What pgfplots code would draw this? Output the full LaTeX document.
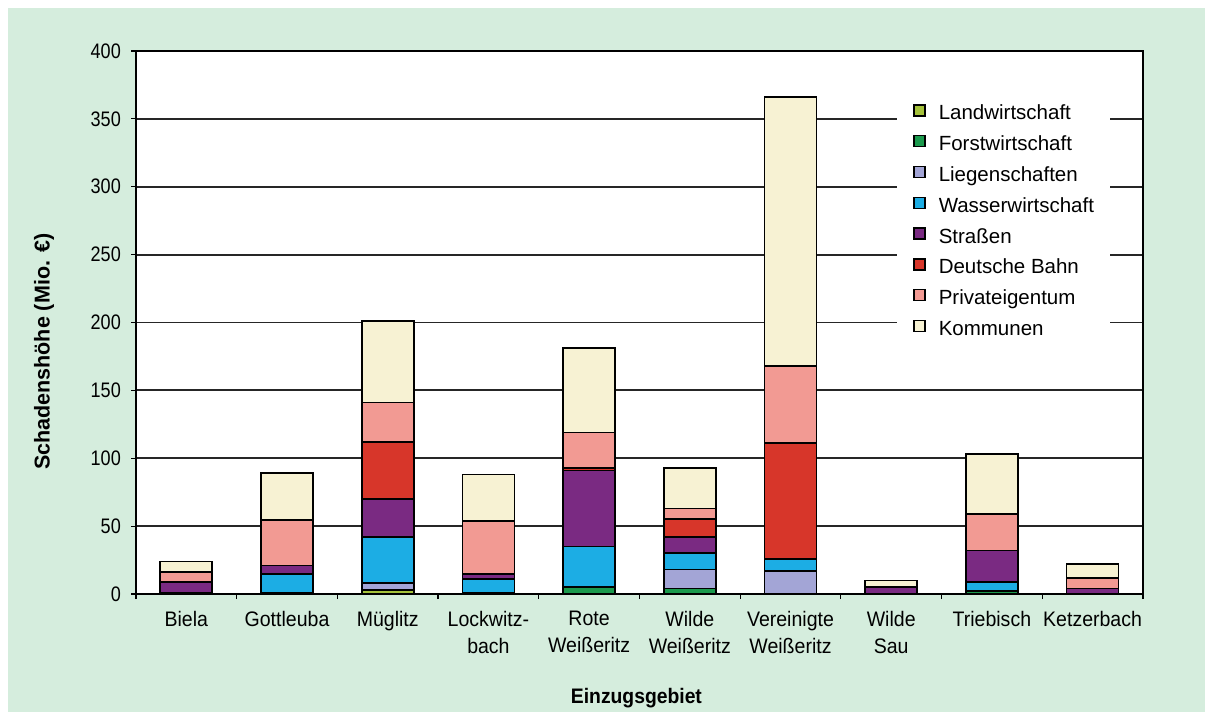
\documentclass[border=0pt]{standalone}
\usepackage{pgfplots}
\pgfplotsset{compat=1.18}
\usepackage{pgfplotstable}
\usepackage{fontspec}
\setmainfont{Liberation Sans}
\newfontfamily\tickfont{Liberation Sans}[FakeStretch=0.93]
\newfontfamily\numfont{Liberation Sans}[FakeStretch=0.86]
\newfontfamily\labfont{Liberation Sans}[FakeStretch=0.92]

\definecolor{bggreen}{HTML}{D5EDDD}
\definecolor{gridc}{HTML}{262626}
\definecolor{cLand}{HTML}{A5C23B}
\definecolor{cForst}{HTML}{1B9A4D}
\definecolor{cLieg}{HTML}{A3A5D6}
\definecolor{cWass}{HTML}{1CADE4}
\definecolor{cStr}{HTML}{7A2A82}
\definecolor{cBahn}{HTML}{D7362A}
\definecolor{cPriv}{HTML}{F29A93}
\definecolor{cKomm}{HTML}{F7F2D3}

% Schaeden je Einzugsgebiet (Mio. Euro), von unten nach oben gestapelt
\pgfplotstableread{
idx Land Forst Liegen Wasser Strassen Bahn Privat Kommunen
0   0    0     0      1      8        0    7      8
1   0    1     0      14     6        0    33.5   34.5
2   3    0     5      34     28       42   29     60
3   0    1     0      10     4        0    39     34
4   0    5     0      30     56       2    26     62
5   0    4     14     12     12       13   8      30
6   0    0     17     9      0        85   57     198
7   0    0     0      0      5        0    0      5
8   0    2     0      7      23       0    27     44
9   0    0     0      0      4        0    8      10
}\schaden

\pgfplotsset{
  sq/.style={legend image code/.code={
      \draw[##1,draw=black,line width=1.4pt] (0pt,-1.5pt) rectangle (11pt,9.5pt);
      \path (24pt,0pt);}},
}

\begin{document}
\begin{tikzpicture}[x=1pt,y=1pt]
\useasboundingbox (0,0) rectangle (1213,715);
\fill[white] (0,0) rectangle (1213,715);
\fill[bggreen] (8,3) rectangle (1205,707);
\begin{axis}[
  at={(136pt,121pt)}, anchor=south west,
  scale only axis, width=1007pt, height=543pt,
  ybar stacked, bar width=52pt,
  xmin=-0.5, xmax=9.5, ymin=0, ymax=400,
  ytick={0,50,...,400},
  yticklabel={\numfont\fontsize{21}{25}\selectfont\pgfmathprintnumber{\tick}},
  xtick={0,...,9},
  xticklabels={Biela,Gottleuba,Müglitz,Lockwitz-\\bach,Rote\\Weißeritz,Wilde\\Weißeritz,Vereinigte\\Weißeritz,Wilde\\Sau,Triebisch,Ketzerbach},
  minor xtick={-0.5,0.5,...,9.5},
  major x tick style={draw=none},
  minor tick length=5pt, major tick length=5pt,
  tick align=outside, xtick pos=bottom, ytick pos=left,
  tick style={black, line width=1.2pt},
  axis background/.style={fill=white},
  axis line style={black, line width=1.8pt},
  ymajorgrids, grid style={gridc, line width=1.8pt},
  /pgf/number format/assume math mode=true,
  yticklabel style={font=\numfont\fontsize{21}{25}\selectfont, inner sep=0pt, xshift=-10pt},
  xticklabel style={font=\tickfont\fontsize{21}{27}\selectfont, align=center, inner sep=0pt, yshift=-12pt},
  ylabel={\bfseries Schadenshöhe (Mio. €)},
  ylabel style={at={(axis description cs:-0.0914,0.446)}, anchor=center, font=\fontsize{21.5}{25}\selectfont},
  xlabel={\labfont\bfseries Einzugsgebiet},
  xlabel style={at={(axis description cs:0.497,-0.1915)}, anchor=center, font=\fontsize{21}{25}\selectfont},
  every axis plot/.append style={draw=black, line width=1.8pt},
  legend style={at={(rel axis cs:0.7557,0.917)}, anchor=north west,
    fill=white, draw=none, inner xsep=16pt, inner ysep=8pt,
    font=\fontsize{20.5}{24}\selectfont, row sep=11.1pt,
    nodes={inner sep=0pt, text height=15pt, text depth=4pt}},
  legend cell align=left,
]
\addplot[fill=cLand, sq]  table[x=idx,y=Land]{\schaden};
\addplot[fill=cForst, sq] table[x=idx,y=Forst]{\schaden};
\addplot[fill=cLieg, sq]  table[x=idx,y=Liegen]{\schaden};
\addplot[fill=cWass, sq]  table[x=idx,y=Wasser]{\schaden};
\addplot[fill=cStr, sq]   table[x=idx,y=Strassen]{\schaden};
\addplot[fill=cBahn, sq]  table[x=idx,y=Bahn]{\schaden};
\addplot[fill=cPriv, sq]  table[x=idx,y=Privat]{\schaden};
\addplot[fill=cKomm, sq]  table[x=idx,y=Kommunen]{\schaden};
\legend{Landwirtschaft,Forstwirtschaft,Liegenschaften,Wasserwirtschaft,Straßen,Deutsche Bahn,Privateigentum,Kommunen}
\end{axis}
\end{tikzpicture}
\end{document}
